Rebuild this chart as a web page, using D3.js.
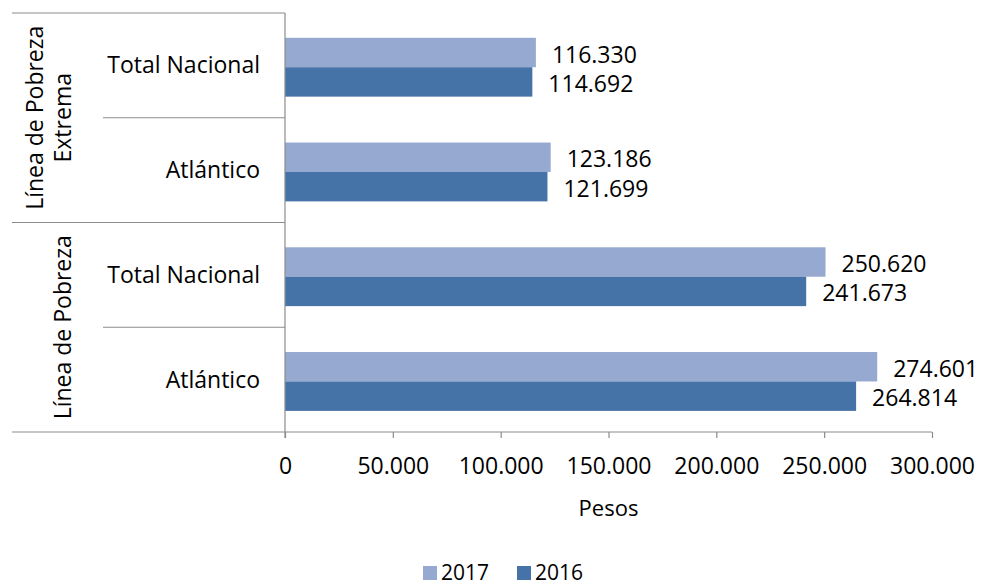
<!DOCTYPE html>
<html>
<head>
<meta charset="utf-8">
<script src="https://cdn.jsdelivr.net/npm/d3@7"></script>
<style>
  body { margin: 0; background: #fff; }
  text { font-family: 'Open Sans', sans-serif; fill: #000; }
</style>
</head>
<body>
<div class="chart"></div>
<script>
// data
let groups = [
  { name: ['Línea de Pobreza', 'Extrema'], size: 2 },
  { name: ['Línea de Pobreza'], size: 2 }
];
let categories = ['Total Nacional', 'Atlántico', 'Total Nacional', 'Atlántico'];
let series = ['2017', '2016'];
let values2017 = [116330, 123186, 250620, 274601];
let values2016 = [114692, 121699, 241673, 264814];
let xTicks = [0, 50000, 100000, 150000, 200000, 250000, 300000];

let config = {
  width: 982,
  height: 588,
  left: 285,
  right: 932,
  top: 13,
  bottom: 432,
  lineColor: '#8c8c8c',
  colors: { '2017': '#95a9d1', '2016': '#4673a7' },
  fontSize: '23px'
};

let es = d3.formatLocale({ decimal: ',', thousands: '.', grouping: [3], currency: ['$', ''] });
let fmt = es.format(',d');

let svg = d3.select('div.chart').append('svg')
  .attr('width', config.width)
  .attr('height', config.height);

let x = d3.scaleLinear()
  .domain([0, 300000])
  .range([config.left, config.right]);

let y = d3.scaleBand()
  .domain(d3.range(categories.length))
  .range([config.top, config.bottom])
  .padding(0);

let ySub = d3.scaleBand()
  .domain(series)
  .range([0, y.bandwidth()])
  .paddingInner(0)
  .paddingOuter(0.78)
  .align(0.54);

let rows = categories.map((c, i) => ({
  i: i,
  cat: c,
  vals: [{ s: '2017', v: values2017[i] }, { s: '2016', v: values2016[i] }]
}));

// bars
let rowG = svg.selectAll('.row')
  .data(rows)
  .enter().append('g')
  .attr('transform', d => 'translate(0,' + y(d.i) + ')');

rowG.selectAll('rect')
  .data(d => d.vals)
  .enter().append('rect')
  .attr('x', x(0))
  .attr('y', d => ySub(d.s))
  .attr('width', d => x(d.v) - x(0))
  .attr('height', ySub.bandwidth())
  .attr('fill', d => config.colors[d.s]);

rowG.selectAll('text.val')
  .data(d => d.vals)
  .enter().append('text')
  .attr('class', 'val')
  .attr('x', d => x(d.v) + 16)
  .attr('y', d => ySub(d.s) + ySub.bandwidth() / 2 + 2)
  .attr('dy', '0.35em')
  .attr('font-size', config.fontSize)
  .text(d => fmt(d.v));

// category labels
rowG.append('text')
  .attr('x', 260)
  .attr('y', y.bandwidth() / 2)
  .attr('dy', '0.35em')
  .attr('text-anchor', 'end')
  .attr('font-size', config.fontSize)
  .text(d => d.cat);

// separator lines on the left
let lines = svg.append('g')
  .attr('stroke', config.lineColor)
  .attr('stroke-width', 1.2);

let start = 0;
lines.append('line')
  .attr('x1', 12).attr('x2', config.left)
  .attr('y1', config.top).attr('y2', config.top);
groups.forEach((g, gi) => {
  for (let k = 1; k < g.size; k++) {
    let yy = y(start + k);
    lines.append('line')
      .attr('x1', 103).attr('x2', config.left)
      .attr('y1', yy).attr('y2', yy);
  }
  start += g.size;
  let yEnd = start < categories.length ? y(start) : config.bottom;
  lines.append('line')
    .attr('x1', 12).attr('x2', start < categories.length ? config.left : config.right)
    .attr('y1', yEnd).attr('y2', yEnd);
});

// group labels, rotated
start = 0;
groups.forEach(g => {
  let cy = (y(start) + (start + g.size < categories.length ? y(start + g.size) : config.bottom)) / 2;
  let n = g.name.length;
  g.name.forEach((line, li) => {
    let cx = 63 - (n - 1 - li) * 28;
    svg.append('text')
      .attr('transform', 'translate(' + cx + ',' + cy + ') rotate(-90)')
      .attr('text-anchor', 'middle')
      .attr('dy', '0.35em')
      .attr('font-size', config.fontSize)
      .text(line);
  });
  start += g.size;
});

// vertical axis line
lines.append('line')
  .attr('x1', config.left).attr('x2', config.left)
  .attr('y1', config.top).attr('y2', config.bottom + 6);

// x axis
let xAxis = svg.append('g')
  .attr('transform', 'translate(0,' + config.bottom + ')')
  .call(d3.axisBottom(x).tickValues(xTicks).tickFormat(fmt).tickSize(6).tickPadding(20));
xAxis.select('.domain').remove();
xAxis.selectAll('line').attr('stroke', config.lineColor).attr('stroke-width', 1.2);
xAxis.selectAll('text')
  .attr('font-size', config.fontSize)
  .attr('font-family', "'Open Sans', sans-serif")
  .attr('fill', '#000');

svg.append('text')
  .attr('x', (config.left + config.right) / 2)
  .attr('y', 508)
  .attr('dy', '0.35em')
  .attr('text-anchor', 'middle')
  .attr('font-size', '22px')
  .text('Pesos');

// legend
let legend = svg.append('g')
  .attr('transform', 'translate(423,566)');
let legItems = legend.selectAll('g')
  .data(series)
  .enter().append('g')
  .attr('transform', (d, i) => 'translate(' + (i * 94) + ',0)');
legItems.append('rect')
  .attr('width', 14).attr('height', 14)
  .attr('fill', d => config.colors[d]);
legItems.append('text')
  .attr('x', 18).attr('y', 7).attr('dy', '0.35em')
  .attr('font-size', '21px')
  .text(d => d);
</script>
</body>
</html>
